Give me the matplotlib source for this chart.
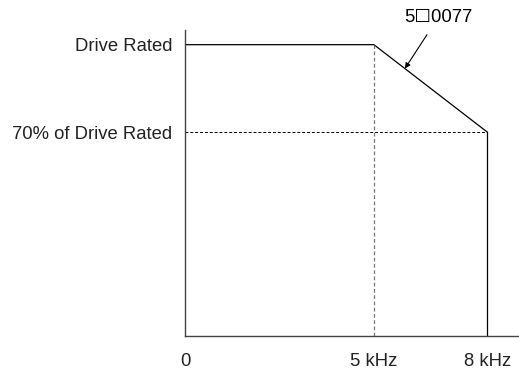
import matplotlib.pyplot as plt

# derating curve data (kHz, % of rated current)
freq = [0, 5, 8]
current = [100, 100, 70]
x_ticks = [0, 5, 8]
x_labels = ["0", "5 kHz", "8 kHz"]
y_ticks = [70, 100]
y_labels = ["70% of Drive Rated", "Drive Rated"]
model = "5\u26100077"

plt.rcParams['font.family'] = ['Liberation Sans', 'DejaVu Sans']

fig = plt.figure(figsize=(5.19, 3.69), dpi=100)
ax = fig.add_axes([0.3565, 0.0894, 0.6435, 0.829])

ax.plot(freq, current, color='black', lw=0.9)
ax.plot([freq[-1], freq[-1]], [0, current[-1]], color='black', lw=0.9)
ax.plot([freq[1], freq[1]], [0, current[1]], color='#777777', lw=0.9, ls=(0, (3, 2)))
ax.plot([0, freq[-1]], [current[-1], current[-1]], color='black', lw=0.7, ls=(0, (3, 2)))

ax.annotate(model, xy=(5.82, 91.8), xytext=(6.7, 109.3),
            ha='center', va='center', fontsize=13.3, annotation_clip=False,
            arrowprops=dict(arrowstyle='-|>', color='black', lw=0.8,
                            mutation_scale=8, shrinkA=5, shrinkB=0))

ax.set_xlim(0, 8.84)
ax.set_ylim(0, 105)
ax.set_xticks(x_ticks)
ax.set_xticklabels(x_labels)
ax.set_yticks(y_ticks)
ax.set_yticklabels(y_labels)
ax.tick_params(axis='both', length=0, labelsize=13.3, colors='#222222')
ax.tick_params(axis='x', pad=12)
ax.tick_params(axis='y', pad=9)

for s in ['top', 'right']:
    ax.spines[s].set_visible(False)
for s in ['left', 'bottom']:
    ax.spines[s].set_color('#444444')
    ax.spines[s].set_linewidth(1.0)

fig.savefig('out.png', dpi=100)
